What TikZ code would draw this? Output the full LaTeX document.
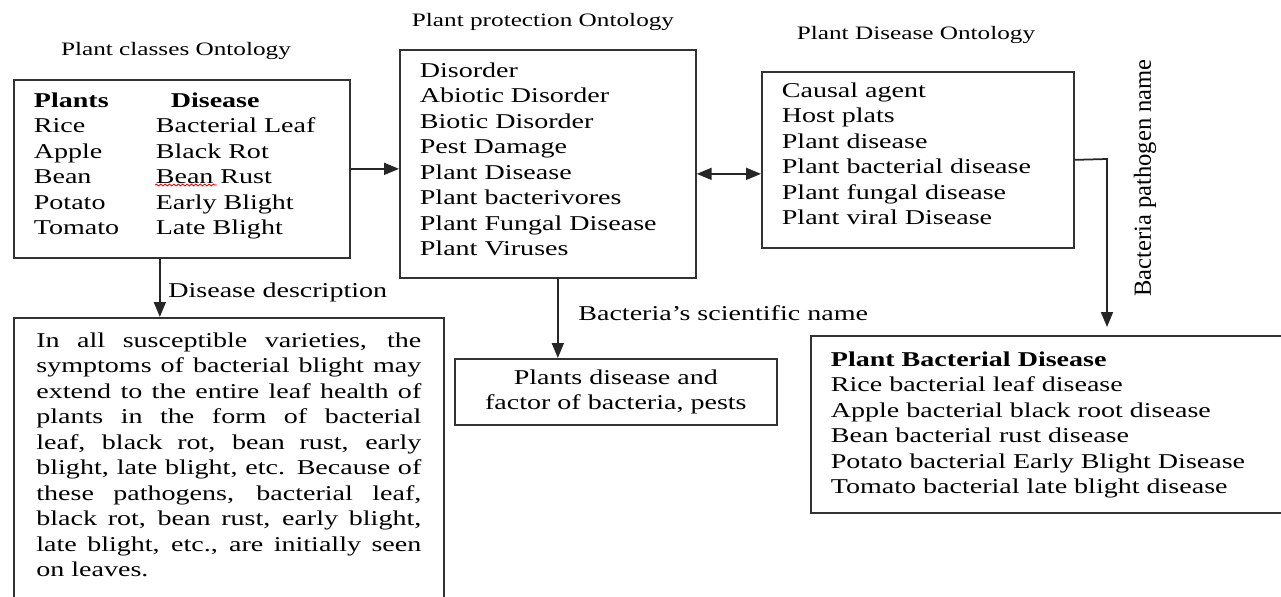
\documentclass[tikz,border=0pt]{standalone}
\usepackage{fontspec}
\setmainfont{Liberation Serif}[FakeStretch=1.33]
\newfontfamily\plainserif{Liberation Serif}
\usetikzlibrary{arrows.meta,positioning,calc,decorations.pathmorphing}

\begin{document}
\begin{tikzpicture}[
    x=0.02cm, y=-0.02cm,
    font=\fontsize{12}{14.5}\selectfont,
    ontbox/.style={rectangle, draw=black!80, line width=1pt, anchor=north west, inner xsep=0.4cm},
    heading/.style={font=\fontsize{10.8}{13}\selectfont},
    linklabel/.style={anchor=west, inner sep=0pt},
    arrow/.style={-{Triangle[length=0.3cm, width=0.24cm]}, line width=1pt, draw=black!85},
    dblarrow/.style={{Triangle[length=0.3cm, width=0.24cm]}-{Triangle[length=0.3cm, width=0.24cm]}, line width=1pt, draw=black!85}
]
    \useasboundingbox (0,0) rectangle (1281,596);

    % ontology titles
    \node[heading] (classes-title) at (176,51) {Plant classes Ontology};
    \node[heading] (protection-title) at (543,22) {Plant protection Ontology};
    \node[heading] (disease-title) at (916,35) {Plant Disease Ontology};

    % boxes
    \node[ontbox, inner ysep=0.26cm] (classes) at (13,79) {\parbox[t][3.04cm][t]{5.92cm}{%
        \makebox[2.44cm][l]{\textbf{Plants}}\hspace{0.3cm}\textbf{Disease}\\
        \makebox[2.44cm][l]{Rice}Bacterial Leaf\\
        \makebox[2.44cm][l]{Apple}Black Rot\\
        \makebox[2.44cm][l]{Bean}Bean Rust\\
        \makebox[2.44cm][l]{Potato}Early Blight\\
        \makebox[2.44cm][l]{Tomato}Late Blight}};
    \node[ontbox, inner ysep=0.26cm] (protection) at (399,49) {\parbox[t][4.04cm][t]{5.12cm}{%
        Disorder\\
        Abiotic Disorder\\
        Biotic Disorder\\
        Pest Damage\\
        Plant Disease\\
        Plant bacterivores\\
        Plant Fungal Disease\\
        Plant Viruses}};
    \node[ontbox, inner ysep=0.22cm] (disease) at (761,71) {\parbox[t][3.08cm][t]{5.44cm}{%
        Causal agent\\
        Host plats\\
        Plant disease\\
        Plant bacterial disease\\
        Plant fungal disease\\
        Plant viral Disease}};
    \node[ontbox, inner xsep=0.45cm, inner ysep=0.3cm] (description) at (13,317) {\parbox[t][5.6cm][t]{7.7cm}{%
        \tolerance=10000
        In all susceptible varieties, the\linebreak
        symptoms of bacterial blight may\linebreak
        extend to the entire leaf health of\linebreak
        plants in the form of bacterial\linebreak
        leaf, black rot, bean rust, early\linebreak
        blight, late blight, etc. Because of\linebreak
        these pathogens, bacterial leaf,\linebreak
        black rot, bean rust, early blight,\linebreak
        late blight, etc., are initially seen\linebreak
        on leaves.}};
    \node[ontbox, inner xsep=0pt, minimum width=6.44cm, minimum height=1.32cm, align=center] (factors) at (454,358) {Plants disease and\\factor of bacteria, pests};
    \node[ontbox, inner ysep=0.32cm] (bacterial) at (810,335) {\parbox[t][2.9cm][t]{8.8cm}{%
        \textbf{Plant Bacterial Disease}\\
        Rice bacterial leaf disease\\
        Apple bacterial black root disease\\
        Bean bacterial rust disease\\
        Potato bacterial Early Blight Disease\\
        Tomato bacterial late blight disease}};

    % spelling mark under Bean
    \draw[red, line width=0.5pt, decorate, decoration={snake, amplitude=0.5pt, segment length=2.5pt}] (155,185) -- (217,185);

    % connectors
    \coordinate (desc-drop) at ($(classes.south)+(-22,0)$);
    \coordinate (link-left) at ($(protection.east)+(0,10)$);
    \coordinate (sci-drop) at ($(protection.south)+(10,0)$);
    \coordinate (pathogen-turn) at (1107,159);

    \draw[arrow] (classes.east) -- (classes.east -| protection.west);
    \draw[dblarrow] (link-left) -- (link-left -| disease.west);
    \draw[arrow] (desc-drop) -- (desc-drop |- description.north);
    \draw[arrow] (sci-drop) -- (sci-drop |- factors.north);
    \draw[arrow, shorten >=0.16cm] (disease.east) -- (pathogen-turn) -- (pathogen-turn |- bacterial.north);

    % connector labels
    \node[linklabel] (desc-label) at (168,292) {Disease description};
    \node[linklabel] (sci-label) at (578,313) {Bacteria's scientific name};
    \node[rotate=90, font=\plainserif\fontsize{14}{16}\selectfont] (pathogen-label) at (1145,178) {Bacteria pathogen name};
\end{tikzpicture}
\end{document}
